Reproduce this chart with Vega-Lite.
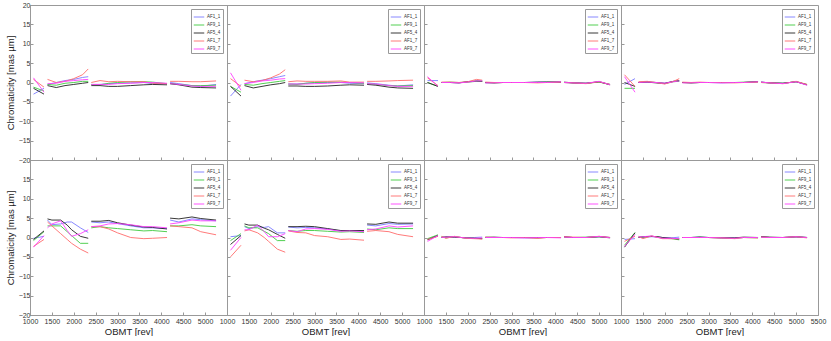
{
"$schema": "https://vega.github.io/schema/vega-lite/v6.json",
"background": "white",
"padding": {"left": 4, "top": 0, "right": 2, "bottom": 0},
"datasets": {
"p1": [
{"g":1,"x":1080,"AF1_1":-3,"AF9_1":-1.2,"AF5_4":-1.5,"AF1_7":0.8,"AF9_7":1.2},
{"g":1,"x":1320,"AF1_1":-1.5,"AF9_1":-2.2,"AF5_4":-3,"AF1_7":-1.2,"AF9_7":-2.5},
{"g":2,"x":1400,"AF1_1":-0.5,"AF9_1":-0.5,"AF5_4":-0.8,"AF1_7":0.8,"AF9_7":-0.3},
{"g":2,"x":1600,"AF1_1":0,"AF9_1":-0.7,"AF5_4":-1.3,"AF1_7":0,"AF9_7":-0.2},
{"g":2,"x":1800,"AF1_1":0.5,"AF9_1":-0.2,"AF5_4":-0.8,"AF1_7":0.3,"AF9_7":0.3},
{"g":2,"x":2000,"AF1_1":0.8,"AF9_1":0,"AF5_4":-0.5,"AF1_7":1,"AF9_7":0.5},
{"g":2,"x":2200,"AF1_1":1.3,"AF9_1":0.3,"AF5_4":-0.2,"AF1_7":2,"AF9_7":0.7},
{"g":2,"x":2330,"AF1_1":1.5,"AF9_1":0.3,"AF5_4":0,"AF1_7":3.5,"AF9_7":0.8},
{"g":3,"x":2400,"AF1_1":-0.5,"AF9_1":-0.5,"AF5_4":-0.8,"AF1_7":0,"AF9_7":-0.5},
{"g":3,"x":2600,"AF1_1":-0.5,"AF9_1":-0.6,"AF5_4":-0.8,"AF1_7":0.5,"AF9_7":-0.5},
{"g":3,"x":2800,"AF1_1":-0.3,"AF9_1":-0.2,"AF5_4":-1,"AF1_7":0.2,"AF9_7":-0.5},
{"g":3,"x":3000,"AF1_1":-0.2,"AF9_1":0,"AF5_4":-1,"AF1_7":0.3,"AF9_7":-0.3},
{"g":3,"x":3300,"AF1_1":-0.1,"AF9_1":0.2,"AF5_4":-0.8,"AF1_7":0.2,"AF9_7":-0.2},
{"g":3,"x":3600,"AF1_1":0,"AF9_1":0.2,"AF5_4":-0.6,"AF1_7":0.2,"AF9_7":0},
{"g":3,"x":3800,"AF1_1":-0.3,"AF9_1":0.1,"AF5_4":-0.5,"AF1_7":-0.2,"AF9_7":0},
{"g":3,"x":4130,"AF1_1":-0.3,"AF9_1":-0.3,"AF5_4":-0.6,"AF1_7":-0.3,"AF9_7":-0.2},
{"g":4,"x":4200,"AF1_1":0,"AF9_1":-0.3,"AF5_4":-0.3,"AF1_7":0.3,"AF9_7":-0.3},
{"g":4,"x":4400,"AF1_1":-0.3,"AF9_1":-0.5,"AF5_4":-0.6,"AF1_7":0.3,"AF9_7":-0.5},
{"g":4,"x":4700,"AF1_1":-0.8,"AF9_1":-0.8,"AF5_4":-1.2,"AF1_7":0.2,"AF9_7":-0.9},
{"g":4,"x":4900,"AF1_1":-1,"AF9_1":-0.8,"AF5_4":-1.3,"AF1_7":0.2,"AF9_7":-1},
{"g":4,"x":5250,"AF1_1":-0.5,"AF9_1":-0.7,"AF5_4":-1.4,"AF1_7":0.4,"AF9_7":-1}
],
"p2": [
{"g":1,"x":1080,"AF1_1":-3.5,"AF9_1":-1,"AF5_4":-1,"AF1_7":1,"AF9_7":2.5},
{"g":1,"x":1320,"AF1_1":-0.5,"AF9_1":-2.5,"AF5_4":-3.5,"AF1_7":-1,"AF9_7":-2},
{"g":2,"x":1400,"AF1_1":-0.3,"AF9_1":-0.5,"AF5_4":-0.8,"AF1_7":0.6,"AF9_7":-0.3},
{"g":2,"x":1600,"AF1_1":0.2,"AF9_1":-0.7,"AF5_4":-1.4,"AF1_7":0.2,"AF9_7":0},
{"g":2,"x":1800,"AF1_1":0.6,"AF9_1":-0.3,"AF5_4":-1,"AF1_7":0.5,"AF9_7":0.4},
{"g":2,"x":2000,"AF1_1":1,"AF9_1":0,"AF5_4":-0.6,"AF1_7":1.2,"AF9_7":0.6},
{"g":2,"x":2200,"AF1_1":1.5,"AF9_1":0.3,"AF5_4":-0.3,"AF1_7":2.2,"AF9_7":0.9},
{"g":2,"x":2330,"AF1_1":1.8,"AF9_1":0.5,"AF5_4":0,"AF1_7":3.3,"AF9_7":1},
{"g":3,"x":2400,"AF1_1":-0.4,"AF9_1":-0.4,"AF5_4":-0.9,"AF1_7":0.2,"AF9_7":-0.4},
{"g":3,"x":2600,"AF1_1":-0.4,"AF9_1":-0.5,"AF5_4":-0.9,"AF1_7":0.4,"AF9_7":-0.4},
{"g":3,"x":2800,"AF1_1":-0.2,"AF9_1":-0.2,"AF5_4":-1,"AF1_7":0.3,"AF9_7":-0.4},
{"g":3,"x":3000,"AF1_1":-0.1,"AF9_1":0,"AF5_4":-1,"AF1_7":0.3,"AF9_7":-0.3},
{"g":3,"x":3300,"AF1_1":0,"AF9_1":0.1,"AF5_4":-0.9,"AF1_7":0.3,"AF9_7":-0.2},
{"g":3,"x":3600,"AF1_1":0,"AF9_1":0.1,"AF5_4":-0.7,"AF1_7":0.4,"AF9_7":0},
{"g":3,"x":3800,"AF1_1":-0.2,"AF9_1":0,"AF5_4":-0.6,"AF1_7":0.1,"AF9_7":0},
{"g":3,"x":4130,"AF1_1":-0.3,"AF9_1":-0.2,"AF5_4":-0.7,"AF1_7":0.1,"AF9_7":-0.1},
{"g":4,"x":4200,"AF1_1":-0.1,"AF9_1":-0.3,"AF5_4":-0.5,"AF1_7":0.3,"AF9_7":-0.3},
{"g":4,"x":4400,"AF1_1":-0.3,"AF9_1":-0.5,"AF5_4":-0.7,"AF1_7":0.3,"AF9_7":-0.4},
{"g":4,"x":4700,"AF1_1":-0.7,"AF9_1":-0.8,"AF5_4":-1.2,"AF1_7":0.4,"AF9_7":-0.8},
{"g":4,"x":4900,"AF1_1":-0.9,"AF9_1":-0.9,"AF5_4":-1.4,"AF1_7":0.5,"AF9_7":-1},
{"g":4,"x":5250,"AF1_1":-0.6,"AF9_1":-0.8,"AF5_4":-1.5,"AF1_7":0.6,"AF9_7":-1}
],
"p3": [
{"g":1,"x":1080,"AF1_1":0.5,"AF9_1":0,"AF5_4":0,"AF1_7":1.2,"AF9_7":1.5},
{"g":1,"x":1320,"AF1_1":0.5,"AF9_1":-1,"AF5_4":-1,"AF1_7":-0.8,"AF9_7":-1},
{"g":2,"x":1400,"AF1_1":0,"AF9_1":0,"AF5_4":0,"AF1_7":0.1,"AF9_7":0},
{"g":2,"x":1600,"AF1_1":0,"AF9_1":0.1,"AF5_4":0,"AF1_7":0.1,"AF9_7":0},
{"g":2,"x":1800,"AF1_1":-0.1,"AF9_1":0,"AF5_4":-0.1,"AF1_7":0,"AF9_7":-0.1},
{"g":2,"x":2000,"AF1_1":0.2,"AF9_1":0.1,"AF5_4":0.2,"AF1_7":0.2,"AF9_7":0.1},
{"g":2,"x":2200,"AF1_1":0.3,"AF9_1":0.3,"AF5_4":0.4,"AF1_7":0.8,"AF9_7":0.4},
{"g":2,"x":2330,"AF1_1":0.4,"AF9_1":0.3,"AF5_4":0.3,"AF1_7":0.6,"AF9_7":0.4},
{"g":3,"x":2400,"AF1_1":-0.1,"AF9_1":0,"AF5_4":0,"AF1_7":0.1,"AF9_7":-0.1},
{"g":3,"x":2600,"AF1_1":0,"AF9_1":-0.1,"AF5_4":-0.1,"AF1_7":0,"AF9_7":-0.1},
{"g":3,"x":2800,"AF1_1":0,"AF9_1":0,"AF5_4":0,"AF1_7":0,"AF9_7":0},
{"g":3,"x":3000,"AF1_1":0,"AF9_1":0,"AF5_4":0,"AF1_7":0,"AF9_7":0},
{"g":3,"x":3300,"AF1_1":0,"AF9_1":0,"AF5_4":0,"AF1_7":0,"AF9_7":0},
{"g":3,"x":3600,"AF1_1":0.1,"AF9_1":0,"AF5_4":0.1,"AF1_7":-0.1,"AF9_7":0},
{"g":3,"x":3800,"AF1_1":0.1,"AF9_1":0.1,"AF5_4":0.1,"AF1_7":0,"AF9_7":0},
{"g":3,"x":4130,"AF1_1":0.1,"AF9_1":0.2,"AF5_4":0.1,"AF1_7":0.1,"AF9_7":0.2},
{"g":4,"x":4200,"AF1_1":0,"AF9_1":0,"AF5_4":0.1,"AF1_7":0,"AF9_7":0},
{"g":4,"x":4400,"AF1_1":-0.1,"AF9_1":-0.1,"AF5_4":-0.1,"AF1_7":-0.1,"AF9_7":-0.1},
{"g":4,"x":4700,"AF1_1":-0.2,"AF9_1":-0.2,"AF5_4":-0.2,"AF1_7":-0.3,"AF9_7":-0.2},
{"g":4,"x":5000,"AF1_1":0.2,"AF9_1":0.1,"AF5_4":0.2,"AF1_7":0.2,"AF9_7":0.3},
{"g":4,"x":5250,"AF1_1":-0.5,"AF9_1":-0.5,"AF5_4":-0.6,"AF1_7":-0.5,"AF9_7":-0.6}
],
"p4": [
{"g":1,"x":1080,"AF1_1":-0.5,"AF9_1":-1.5,"AF5_4":0,"AF1_7":2,"AF9_7":1.5},
{"g":1,"x":1320,"AF1_1":1,"AF9_1":-1.5,"AF5_4":-1,"AF1_7":-1,"AF9_7":-2.5},
{"g":2,"x":1400,"AF1_1":0,"AF9_1":0,"AF5_4":0,"AF1_7":0.2,"AF9_7":0},
{"g":2,"x":1600,"AF1_1":0.1,"AF9_1":0.2,"AF5_4":0.1,"AF1_7":0.3,"AF9_7":0.1},
{"g":2,"x":1800,"AF1_1":0,"AF9_1":0,"AF5_4":-0.1,"AF1_7":0,"AF9_7":0},
{"g":2,"x":2000,"AF1_1":-0.2,"AF9_1":-0.3,"AF5_4":-0.2,"AF1_7":-0.4,"AF9_7":-0.2},
{"g":2,"x":2200,"AF1_1":0.3,"AF9_1":0.2,"AF5_4":0.3,"AF1_7":0.3,"AF9_7":0.2},
{"g":2,"x":2330,"AF1_1":0.3,"AF9_1":0.3,"AF5_4":0.5,"AF1_7":1,"AF9_7":0.4},
{"g":3,"x":2400,"AF1_1":0,"AF9_1":0,"AF5_4":0,"AF1_7":0.1,"AF9_7":-0.1},
{"g":3,"x":2600,"AF1_1":0,"AF9_1":-0.1,"AF5_4":-0.1,"AF1_7":0,"AF9_7":-0.1},
{"g":3,"x":2800,"AF1_1":0,"AF9_1":0,"AF5_4":0,"AF1_7":0.1,"AF9_7":0},
{"g":3,"x":3000,"AF1_1":0,"AF9_1":0,"AF5_4":0,"AF1_7":0,"AF9_7":0},
{"g":3,"x":3300,"AF1_1":-0.1,"AF9_1":0,"AF5_4":0,"AF1_7":0,"AF9_7":-0.1},
{"g":3,"x":3600,"AF1_1":0,"AF9_1":0,"AF5_4":0,"AF1_7":-0.1,"AF9_7":0},
{"g":3,"x":3800,"AF1_1":0,"AF9_1":0.1,"AF5_4":0,"AF1_7":0,"AF9_7":0},
{"g":3,"x":4130,"AF1_1":0.2,"AF9_1":0.2,"AF5_4":0.2,"AF1_7":0.1,"AF9_7":0.2},
{"g":4,"x":4200,"AF1_1":0.1,"AF9_1":0,"AF5_4":0.1,"AF1_7":0,"AF9_7":0.1},
{"g":4,"x":4400,"AF1_1":-0.1,"AF9_1":-0.1,"AF5_4":-0.1,"AF1_7":-0.1,"AF9_7":-0.1},
{"g":4,"x":4700,"AF1_1":-0.2,"AF9_1":-0.2,"AF5_4":-0.2,"AF1_7":-0.3,"AF9_7":-0.3},
{"g":4,"x":5000,"AF1_1":0.2,"AF9_1":0.2,"AF5_4":0.2,"AF1_7":0.3,"AF9_7":0.2},
{"g":4,"x":5250,"AF1_1":-0.6,"AF9_1":-0.5,"AF5_4":-0.6,"AF1_7":-0.5,"AF9_7":-0.7}
],
"p5": [
{"g":1,"x":1080,"AF1_1":-0.2,"AF9_1":-0.8,"AF5_4":-0.5,"AF1_7":-2.3,"AF9_7":-2.5},
{"g":1,"x":1320,"AF1_1":0.3,"AF9_1":1.5,"AF5_4":1.7,"AF1_7":-0.5,"AF9_7":0.5},
{"g":2,"x":1400,"AF1_1":4.5,"AF9_1":3,"AF5_4":4.8,"AF1_7":4,"AF9_7":2.5},
{"g":2,"x":1500,"AF1_1":3.3,"AF9_1":3,"AF5_4":4.5,"AF1_7":3,"AF9_7":3.5},
{"g":2,"x":1700,"AF1_1":3.5,"AF9_1":3,"AF5_4":4.5,"AF1_7":1,"AF9_7":4.3},
{"g":2,"x":1850,"AF1_1":4,"AF9_1":1.5,"AF5_4":3.2,"AF1_7":-0.5,"AF9_7":1.8},
{"g":2,"x":1950,"AF1_1":4,"AF9_1":0.5,"AF5_4":2,"AF1_7":-1.5,"AF9_7":0.3},
{"g":2,"x":2150,"AF1_1":2.5,"AF9_1":-1.5,"AF5_4":0.3,"AF1_7":-3,"AF9_7":1},
{"g":2,"x":2330,"AF1_1":1.3,"AF9_1":-1.5,"AF5_4":-0.2,"AF1_7":-4,"AF9_7":2},
{"g":3,"x":2400,"AF1_1":4,"AF9_1":2.5,"AF5_4":4.2,"AF1_7":2.8,"AF9_7":2.8},
{"g":3,"x":2600,"AF1_1":3.8,"AF9_1":2.8,"AF5_4":4.2,"AF1_7":2.8,"AF9_7":3},
{"g":3,"x":2800,"AF1_1":4,"AF9_1":2.5,"AF5_4":4.4,"AF1_7":2.2,"AF9_7":3.5},
{"g":3,"x":3000,"AF1_1":3.6,"AF9_1":2.3,"AF5_4":3.8,"AF1_7":1.2,"AF9_7":3.6},
{"g":3,"x":3300,"AF1_1":3,"AF9_1":2,"AF5_4":3.2,"AF1_7":0,"AF9_7":3.3},
{"g":3,"x":3600,"AF1_1":2.5,"AF9_1":1.7,"AF5_4":2.7,"AF1_7":-0.3,"AF9_7":2.8},
{"g":3,"x":3800,"AF1_1":2.5,"AF9_1":1.8,"AF5_4":2.6,"AF1_7":-0.2,"AF9_7":2.8},
{"g":3,"x":4130,"AF1_1":2.3,"AF9_1":1.5,"AF5_4":2.2,"AF1_7":0,"AF9_7":2.5},
{"g":4,"x":4200,"AF1_1":4.5,"AF9_1":3,"AF5_4":5,"AF1_7":3,"AF9_7":3.5},
{"g":4,"x":4400,"AF1_1":4,"AF9_1":3,"AF5_4":4.8,"AF1_7":2.8,"AF9_7":3.8},
{"g":4,"x":4700,"AF1_1":4.8,"AF9_1":3.3,"AF5_4":5.3,"AF1_7":2.5,"AF9_7":4.5},
{"g":4,"x":4900,"AF1_1":4.6,"AF9_1":3,"AF5_4":4.9,"AF1_7":1.5,"AF9_7":4.3},
{"g":4,"x":5250,"AF1_1":4.3,"AF9_1":2.8,"AF5_4":4.5,"AF1_7":0.7,"AF9_7":4.3}
],
"p6": [
{"g":1,"x":1080,"AF1_1":0.2,"AF9_1":-0.8,"AF5_4":-1.8,"AF1_7":-5,"AF9_7":-3.3},
{"g":1,"x":1320,"AF1_1":0.5,"AF9_1":1,"AF5_4":0.5,"AF1_7":-2,"AF9_7":0},
{"g":2,"x":1400,"AF1_1":2.8,"AF9_1":3,"AF5_4":3.5,"AF1_7":1.7,"AF9_7":2},
{"g":2,"x":1500,"AF1_1":2.3,"AF9_1":2.5,"AF5_4":3.2,"AF1_7":2,"AF9_7":2},
{"g":2,"x":1700,"AF1_1":2.8,"AF9_1":2.5,"AF5_4":3.2,"AF1_7":1.2,"AF9_7":3.2},
{"g":2,"x":1850,"AF1_1":2.6,"AF9_1":1.6,"AF5_4":2.4,"AF1_7":0,"AF9_7":1.5},
{"g":2,"x":1950,"AF1_1":2.8,"AF9_1":1,"AF5_4":2,"AF1_7":-1,"AF9_7":0.2},
{"g":2,"x":2150,"AF1_1":1.2,"AF9_1":-0.8,"AF5_4":0.8,"AF1_7":-3,"AF9_7":0.2},
{"g":2,"x":2330,"AF1_1":1.2,"AF9_1":-0.8,"AF5_4":-0.2,"AF1_7":-3.8,"AF9_7":1},
{"g":3,"x":2400,"AF1_1":2.7,"AF9_1":1.8,"AF5_4":2.8,"AF1_7":1.7,"AF9_7":1.8},
{"g":3,"x":2600,"AF1_1":2.5,"AF9_1":1.6,"AF5_4":2.8,"AF1_7":1.3,"AF9_7":1.5},
{"g":3,"x":2800,"AF1_1":2.6,"AF9_1":1.8,"AF5_4":2.9,"AF1_7":1.2,"AF9_7":2.2},
{"g":3,"x":3000,"AF1_1":2.5,"AF9_1":1.8,"AF5_4":2.8,"AF1_7":0.5,"AF9_7":2.3},
{"g":3,"x":3300,"AF1_1":2.2,"AF9_1":1.6,"AF5_4":2.3,"AF1_7":0.2,"AF9_7":2.1},
{"g":3,"x":3600,"AF1_1":1.7,"AF9_1":1.4,"AF5_4":1.8,"AF1_7":-0.5,"AF9_7":1.6},
{"g":3,"x":3800,"AF1_1":1.8,"AF9_1":1.5,"AF5_4":1.8,"AF1_7":-0.4,"AF9_7":1.7},
{"g":3,"x":4130,"AF1_1":1.6,"AF9_1":1.3,"AF5_4":1.8,"AF1_7":-0.7,"AF9_7":1.5},
{"g":4,"x":4200,"AF1_1":3.2,"AF9_1":2.2,"AF5_4":3.5,"AF1_7":1.6,"AF9_7":2},
{"g":4,"x":4400,"AF1_1":3,"AF9_1":2,"AF5_4":3.4,"AF1_7":1.8,"AF9_7":2.2},
{"g":4,"x":4700,"AF1_1":3.6,"AF9_1":2.5,"AF5_4":4,"AF1_7":1.5,"AF9_7":3},
{"g":4,"x":4900,"AF1_1":3.4,"AF9_1":2.3,"AF5_4":3.7,"AF1_7":0.8,"AF9_7":2.7},
{"g":4,"x":5250,"AF1_1":3.5,"AF9_1":2.3,"AF5_4":3.7,"AF1_7":0.2,"AF9_7":3}
],
"p7": [
{"g":1,"x":1080,"AF1_1":-0.5,"AF9_1":-0.3,"AF5_4":-0.6,"AF1_7":-0.5,"AF9_7":-1},
{"g":1,"x":1320,"AF1_1":0.4,"AF9_1":0.7,"AF5_4":0.5,"AF1_7":0.3,"AF9_7":0.5},
{"g":2,"x":1400,"AF1_1":0.1,"AF9_1":0.2,"AF5_4":0,"AF1_7":0.3,"AF9_7":0},
{"g":2,"x":1500,"AF1_1":0,"AF9_1":-0.1,"AF5_4":0.2,"AF1_7":-0.2,"AF9_7":0.1},
{"g":2,"x":1700,"AF1_1":0.1,"AF9_1":0.2,"AF5_4":0.1,"AF1_7":0.3,"AF9_7":0.2},
{"g":2,"x":1850,"AF1_1":0,"AF9_1":0,"AF5_4":0,"AF1_7":0,"AF9_7":0},
{"g":2,"x":1950,"AF1_1":-0.1,"AF9_1":-0.1,"AF5_4":-0.1,"AF1_7":-0.2,"AF9_7":-0.1},
{"g":2,"x":2150,"AF1_1":0,"AF9_1":-0.2,"AF5_4":-0.2,"AF1_7":-0.3,"AF9_7":-0.2},
{"g":2,"x":2330,"AF1_1":0.1,"AF9_1":-0.3,"AF5_4":-0.3,"AF1_7":-0.4,"AF9_7":-0.1},
{"g":3,"x":2400,"AF1_1":0,"AF9_1":0.1,"AF5_4":0,"AF1_7":0.1,"AF9_7":0},
{"g":3,"x":2600,"AF1_1":0,"AF9_1":0,"AF5_4":0.1,"AF1_7":0,"AF9_7":0},
{"g":3,"x":2800,"AF1_1":0,"AF9_1":0,"AF5_4":0,"AF1_7":0,"AF9_7":0},
{"g":3,"x":3000,"AF1_1":0,"AF9_1":0,"AF5_4":0,"AF1_7":-0.1,"AF9_7":0},
{"g":3,"x":3300,"AF1_1":-0.1,"AF9_1":0,"AF5_4":0,"AF1_7":0,"AF9_7":-0.1},
{"g":3,"x":3600,"AF1_1":0,"AF9_1":0,"AF5_4":-0.1,"AF1_7":-0.2,"AF9_7":0},
{"g":3,"x":3800,"AF1_1":0,"AF9_1":0,"AF5_4":0,"AF1_7":0,"AF9_7":0},
{"g":3,"x":4130,"AF1_1":0,"AF9_1":0,"AF5_4":0,"AF1_7":0,"AF9_7":-0.1},
{"g":4,"x":4200,"AF1_1":0.1,"AF9_1":0.1,"AF5_4":0.2,"AF1_7":0.2,"AF9_7":0.1},
{"g":4,"x":4400,"AF1_1":0,"AF9_1":0,"AF5_4":0,"AF1_7":0.1,"AF9_7":0},
{"g":4,"x":4700,"AF1_1":0,"AF9_1":0.1,"AF5_4":0,"AF1_7":0,"AF9_7":0},
{"g":4,"x":5000,"AF1_1":0.2,"AF9_1":0.2,"AF5_4":0.2,"AF1_7":0.3,"AF9_7":0.3},
{"g":4,"x":5250,"AF1_1":0,"AF9_1":-0.1,"AF5_4":0,"AF1_7":0,"AF9_7":-0.1}
],
"p8": [
{"g":1,"x":1080,"AF1_1":-0.5,"AF9_1":-2,"AF5_4":-2.5,"AF1_7":-1,"AF9_7":-2.3},
{"g":1,"x":1320,"AF1_1":-0.3,"AF9_1":1.3,"AF5_4":1.2,"AF1_7":0.3,"AF9_7":0.8},
{"g":2,"x":1400,"AF1_1":0.2,"AF9_1":0,"AF5_4":0,"AF1_7":0.3,"AF9_7":0.1},
{"g":2,"x":1500,"AF1_1":0,"AF9_1":0.1,"AF5_4":0.2,"AF1_7":-0.3,"AF9_7":0.2},
{"g":2,"x":1700,"AF1_1":0.2,"AF9_1":0.3,"AF5_4":0.3,"AF1_7":0.4,"AF9_7":0.4},
{"g":2,"x":1850,"AF1_1":0.1,"AF9_1":0.1,"AF5_4":0.2,"AF1_7":0,"AF9_7":0},
{"g":2,"x":1950,"AF1_1":0,"AF9_1":-0.2,"AF5_4":0,"AF1_7":-0.3,"AF9_7":-0.2},
{"g":2,"x":2150,"AF1_1":-0.1,"AF9_1":-0.3,"AF5_4":-0.2,"AF1_7":-0.3,"AF9_7":-0.2},
{"g":2,"x":2330,"AF1_1":0.1,"AF9_1":-0.6,"AF5_4":-0.4,"AF1_7":-0.3,"AF9_7":-0.3},
{"g":3,"x":2400,"AF1_1":0,"AF9_1":0,"AF5_4":0,"AF1_7":0,"AF9_7":0},
{"g":3,"x":2600,"AF1_1":0,"AF9_1":0,"AF5_4":0,"AF1_7":0,"AF9_7":0},
{"g":3,"x":2800,"AF1_1":0.1,"AF9_1":0.1,"AF5_4":0.1,"AF1_7":0,"AF9_7":0},
{"g":3,"x":3000,"AF1_1":0,"AF9_1":0,"AF5_4":0,"AF1_7":0,"AF9_7":0},
{"g":3,"x":3300,"AF1_1":0,"AF9_1":-0.1,"AF5_4":-0.1,"AF1_7":-0.1,"AF9_7":-0.1},
{"g":3,"x":3600,"AF1_1":-0.1,"AF9_1":-0.2,"AF5_4":-0.1,"AF1_7":-0.3,"AF9_7":-0.2},
{"g":3,"x":3800,"AF1_1":0,"AF9_1":0,"AF5_4":0.1,"AF1_7":0,"AF9_7":0},
{"g":3,"x":4130,"AF1_1":0,"AF9_1":-0.1,"AF5_4":0,"AF1_7":-0.1,"AF9_7":0},
{"g":4,"x":4200,"AF1_1":0.1,"AF9_1":0.2,"AF5_4":0.2,"AF1_7":0.1,"AF9_7":0.1},
{"g":4,"x":4400,"AF1_1":0,"AF9_1":0,"AF5_4":0.1,"AF1_7":0,"AF9_7":0},
{"g":4,"x":4700,"AF1_1":0,"AF9_1":0,"AF5_4":0,"AF1_7":0,"AF9_7":0},
{"g":4,"x":5000,"AF1_1":0.1,"AF9_1":0.2,"AF5_4":0.2,"AF1_7":0.2,"AF9_7":0.2},
{"g":4,"x":5250,"AF1_1":0,"AF9_1":0,"AF5_4":0,"AF1_7":-0.1,"AF9_7":0}
]
},
"columns": 4,
"bounds": "flush",
"spacing": 0,
"resolve": {"scale": {"color": "independent"}, "legend": {"color": "independent"}},
"concat": [
{"width": 197, "height": 155, "data": {"name": "p1"},
 "transform": [{"fold": ["AF1_1","AF9_1","AF5_4","AF1_7","AF9_7"], "as": ["series","y"]}],
 "mark": {"type": "line", "clip": true},
 "encoding": {
  "x": {"field": "x", "type": "quantitative", "scale": {"domain": [1000,5500], "nice": false}, "axis": {"values": [1000,1500,2000,2500,3000,3500,4000,4500,5000,5500], "labels": false, "title": null, "domainColor": "#555"}},
  "y": {"field": "y", "type": "quantitative", "scale": {"domain": [-20,20], "nice": false}, "axis": {"values": [-20,-15,-10,-5,0,5,10,15,20], "title": "Chromaticity [mas µm]"}},
  "color": {"field": "series", "type": "nominal", "scale": {"domain": ["AF1_1","AF9_1","AF5_4","AF1_7","AF9_7"], "range": ["#7b7bff","#3ec93e","#222222","#ff6b6b","#ff3fff"]}, "legend": {"title": null}},
  "detail": {"field": "g"}}},
{"width": 197, "height": 155, "data": {"name": "p2"},
 "transform": [{"fold": ["AF1_1","AF9_1","AF5_4","AF1_7","AF9_7"], "as": ["series","y"]}],
 "mark": {"type": "line", "clip": true},
 "encoding": {
  "x": {"field": "x", "type": "quantitative", "scale": {"domain": [1000,5500], "nice": false}, "axis": {"values": [1000,1500,2000,2500,3000,3500,4000,4500,5000,5500], "labels": false, "title": null, "domainColor": "#555"}},
  "y": {"field": "y", "type": "quantitative", "scale": {"domain": [-20,20], "nice": false}, "axis": {"values": [-20,-15,-10,-5,0,5,10,15,20], "labels": false, "title": null}},
  "color": {"field": "series", "type": "nominal", "scale": {"domain": ["AF1_1","AF9_1","AF5_4","AF1_7","AF9_7"], "range": ["#7b7bff","#3ec93e","#222222","#ff6b6b","#ff3fff"]}, "legend": {"title": null}},
  "detail": {"field": "g"}}},
{"width": 197, "height": 155, "data": {"name": "p3"},
 "transform": [{"fold": ["AF1_1","AF9_1","AF5_4","AF1_7","AF9_7"], "as": ["series","y"]}],
 "mark": {"type": "line", "clip": true},
 "encoding": {
  "x": {"field": "x", "type": "quantitative", "scale": {"domain": [1000,5500], "nice": false}, "axis": {"values": [1000,1500,2000,2500,3000,3500,4000,4500,5000,5500], "labels": false, "title": null, "domainColor": "#555"}},
  "y": {"field": "y", "type": "quantitative", "scale": {"domain": [-20,20], "nice": false}, "axis": {"values": [-20,-15,-10,-5,0,5,10,15,20], "labels": false, "title": null}},
  "color": {"field": "series", "type": "nominal", "scale": {"domain": ["AF1_1","AF9_1","AF5_4","AF1_7","AF9_7"], "range": ["#7b7bff","#3ec93e","#222222","#ff6b6b","#ff3fff"]}, "legend": {"title": null}},
  "detail": {"field": "g"}}},
{"width": 197, "height": 155, "data": {"name": "p4"},
 "transform": [{"fold": ["AF1_1","AF9_1","AF5_4","AF1_7","AF9_7"], "as": ["series","y"]}],
 "mark": {"type": "line", "clip": true},
 "encoding": {
  "x": {"field": "x", "type": "quantitative", "scale": {"domain": [1000,5500], "nice": false}, "axis": {"values": [1000,1500,2000,2500,3000,3500,4000,4500,5000,5500], "labels": false, "title": null, "domainColor": "#555"}},
  "y": {"field": "y", "type": "quantitative", "scale": {"domain": [-20,20], "nice": false}, "axis": {"values": [-20,-15,-10,-5,0,5,10,15,20], "labels": false, "title": null}},
  "color": {"field": "series", "type": "nominal", "scale": {"domain": ["AF1_1","AF9_1","AF5_4","AF1_7","AF9_7"], "range": ["#7b7bff","#3ec93e","#222222","#ff6b6b","#ff3fff"]}, "legend": {"title": null}},
  "detail": {"field": "g"}}},
{"width": 197, "height": 155, "data": {"name": "p5"},
 "transform": [{"fold": ["AF1_1","AF9_1","AF5_4","AF1_7","AF9_7"], "as": ["series","y"]}],
 "mark": {"type": "line", "clip": true},
 "encoding": {
  "x": {"field": "x", "type": "quantitative", "scale": {"domain": [1000,5500], "nice": false}, "axis": {"values": [1000,1500,2000,2500,3000,3500,4000,4500,5000], "format": "d", "title": "OBMT [rev]"}},
  "y": {"field": "y", "type": "quantitative", "scale": {"domain": [-20,20], "nice": false}, "axis": {"values": [-20,-15,-10,-5,0,5,10,15], "title": "Chromaticity [mas µm]"}},
  "color": {"field": "series", "type": "nominal", "scale": {"domain": ["AF1_1","AF9_1","AF5_4","AF1_7","AF9_7"], "range": ["#7b7bff","#3ec93e","#222222","#ff6b6b","#ff3fff"]}, "legend": {"title": null}},
  "detail": {"field": "g"}}},
{"width": 197, "height": 155, "data": {"name": "p6"},
 "transform": [{"fold": ["AF1_1","AF9_1","AF5_4","AF1_7","AF9_7"], "as": ["series","y"]}],
 "mark": {"type": "line", "clip": true},
 "encoding": {
  "x": {"field": "x", "type": "quantitative", "scale": {"domain": [1000,5500], "nice": false}, "axis": {"values": [1000,1500,2000,2500,3000,3500,4000,4500,5000], "format": "d", "title": "OBMT [rev]"}},
  "y": {"field": "y", "type": "quantitative", "scale": {"domain": [-20,20], "nice": false}, "axis": {"values": [-20,-15,-10,-5,0,5,10,15,20], "labels": false, "title": null}},
  "color": {"field": "series", "type": "nominal", "scale": {"domain": ["AF1_1","AF9_1","AF5_4","AF1_7","AF9_7"], "range": ["#7b7bff","#3ec93e","#222222","#ff6b6b","#ff3fff"]}, "legend": {"title": null}},
  "detail": {"field": "g"}}},
{"width": 197, "height": 155, "data": {"name": "p7"},
 "transform": [{"fold": ["AF1_1","AF9_1","AF5_4","AF1_7","AF9_7"], "as": ["series","y"]}],
 "mark": {"type": "line", "clip": true},
 "encoding": {
  "x": {"field": "x", "type": "quantitative", "scale": {"domain": [1000,5500], "nice": false}, "axis": {"values": [1000,1500,2000,2500,3000,3500,4000,4500,5000], "format": "d", "title": "OBMT [rev]"}},
  "y": {"field": "y", "type": "quantitative", "scale": {"domain": [-20,20], "nice": false}, "axis": {"values": [-20,-15,-10,-5,0,5,10,15,20], "labels": false, "title": null}},
  "color": {"field": "series", "type": "nominal", "scale": {"domain": ["AF1_1","AF9_1","AF5_4","AF1_7","AF9_7"], "range": ["#7b7bff","#3ec93e","#222222","#ff6b6b","#ff3fff"]}, "legend": {"title": null}},
  "detail": {"field": "g"}}},
{"width": 197, "height": 155, "data": {"name": "p8"},
 "transform": [{"fold": ["AF1_1","AF9_1","AF5_4","AF1_7","AF9_7"], "as": ["series","y"]}],
 "mark": {"type": "line", "clip": true},
 "encoding": {
  "x": {"field": "x", "type": "quantitative", "scale": {"domain": [1000,5500], "nice": false}, "axis": {"values": [1000,1500,2000,2500,3000,3500,4000,4500,5000,5500], "format": "d", "title": "OBMT [rev]"}},
  "y": {"field": "y", "type": "quantitative", "scale": {"domain": [-20,20], "nice": false}, "axis": {"values": [-20,-15,-10,-5,0,5,10,15,20], "labels": false, "title": null}},
  "color": {"field": "series", "type": "nominal", "scale": {"domain": ["AF1_1","AF9_1","AF5_4","AF1_7","AF9_7"], "range": ["#7b7bff","#3ec93e","#222222","#ff6b6b","#ff3fff"]}, "legend": {"title": null}},
  "detail": {"field": "g"}}}
],
"config": {
 "concat": {"spacing": 0},
 "view": {"stroke": "#999999", "strokeWidth": 1},
 "line": {"strokeWidth": 0.9},
 "axis": {"labelFont": "Liberation Sans", "titleFont": "Liberation Sans", "labelFontSize": 7, "titleFontSize": 9.5, "titleFontWeight": "normal", "labelColor": "#333333", "titleColor": "#222222", "domainColor": "#999999", "tickColor": "#999999", "tickSize": -3, "labelPadding": 3, "titlePadding": 3, "grid": false, "labelOverlap": false, "labelFlush": false},
 "axisX": {"labelPadding": 5, "titlePadding": 2},
 "legend": {"orient": "top-right", "offset": 4, "padding": 2, "strokeColor": "#999999", "fillColor": "white", "labelFont": "Liberation Sans", "labelFontSize": 4.5, "labelColor": "#333333", "symbolType": "stroke", "symbolSize": 110, "symbolStrokeWidth": 1.2, "rowPadding": 0, "labelOffset": 2, "titlePadding": 0}
}
}
